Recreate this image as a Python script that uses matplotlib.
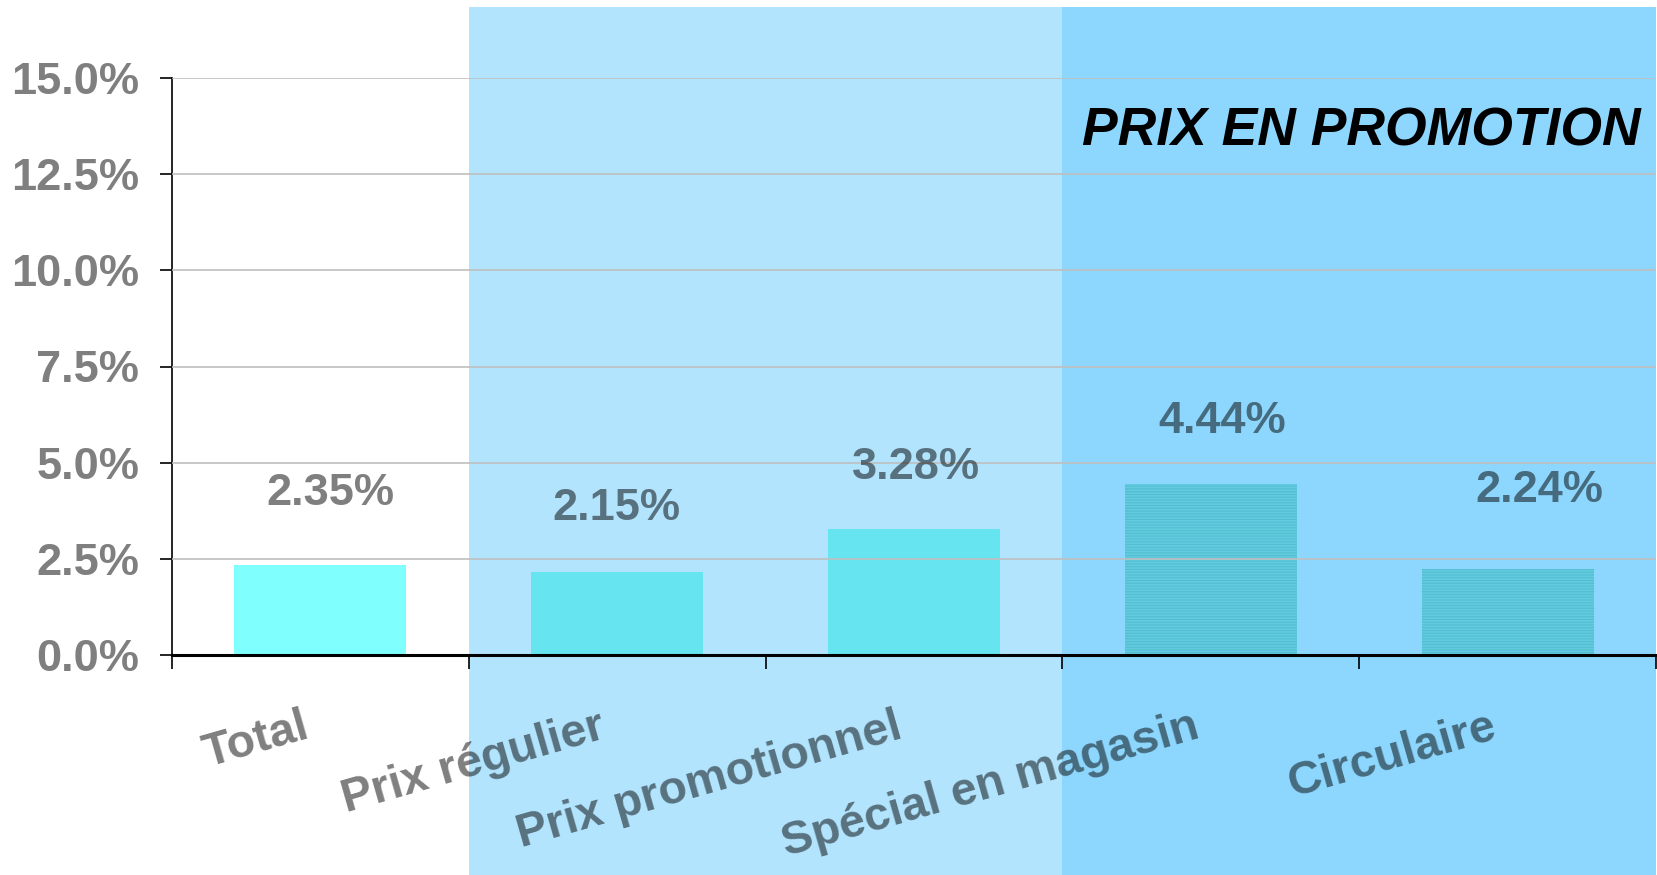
import matplotlib
matplotlib.use("Agg")
import matplotlib.pyplot as plt
import matplotlib.transforms as transforms
from matplotlib.patches import Rectangle
from matplotlib.ticker import FixedLocator, FuncFormatter
import numpy as np

categories = ["Total", "Prix régulier", "Prix promotionnel", "Spécial en magasin", "Circulaire"]
values = [2.35, 2.15, 3.28, 4.44, 2.24]
value_labels = ["2.35%", "2.15%", "3.28%", "4.44%", "2.24%"]
y_ticks = [0, 2.5, 5, 7.5, 10, 12.5, 15]
promo_title = "PRIX EN PROMOTION"

bar_colors = ["#80FFFF", "#66E4F0", "#66E4F0", "#54BDD2", "#54BDD2"]
bar_hatch = [None, None, None, "------", "------"]
label_nudge = [(10, 71), (-1, 64), (2, 61), (11, 63), (32, 78)]  # pixels

plt.rcParams["font.family"] = ["Liberation Sans", "DejaVu Sans"]
plt.rcParams["font.weight"] = "bold"
plt.rcParams["hatch.linewidth"] = 1.2

TEXT = (0, 0, 0, 0.5)

fig = plt.figure(figsize=(16.58, 8.75), dpi=100)
fig.patch.set_facecolor("white")
ax = fig.add_axes([172 / 1658, 220 / 875, 1484 / 1658, 577 / 875])
ax.patch.set_visible(False)

x = np.arange(len(categories))
ax.set_xlim(-0.5, len(categories) - 0.5)
ax.set_ylim(0, 15)

# shaded zones behind everything, spanning the full figure height
blend = transforms.blended_transform_factory(ax.transData, fig.transFigure)
for x0, x1, col in [(0.5, 2.5, "#B2E4FE"), (2.5, 4.5, "#8DD7FE")]:
    fig.add_artist(Rectangle((x0, 0), x1 - x0, 868 / 875, transform=blend,
                             facecolor=col, edgecolor="none", zorder=-5))

bars = ax.bar(x, values, width=0.58, color=bar_colors, linewidth=0, zorder=2)
for b, h in zip(bars, bar_hatch):
    if h:
        b.set_hatch(h)
        b.set_edgecolor("#62CCDE")

ax.yaxis.set_major_locator(FixedLocator(y_ticks))
ax.yaxis.set_major_formatter(FuncFormatter(lambda v, p: f"{v:.1f}%"))
ax.grid(axis="y", color="#BFBFBF", linewidth=1.2, zorder=3)
ax.set_axisbelow(False)
ax.tick_params(axis="y", length=8.5, width=1.2, pad=15, labelsize=32.5,
               labelcolor=TEXT, direction="out")

ax.set_xticks(x)
ax.set_xticklabels([])
ax.set_xticks(np.arange(-0.5, len(categories)), minor=True)
ax.tick_params(axis="x", which="major", length=0)
ax.tick_params(axis="x", which="minor", length=10, width=1.2, direction="out")

for side in ["top", "right"]:
    ax.spines[side].set_visible(False)
ax.spines["left"].set_linewidth(1.2)
ax.spines["bottom"].set_linewidth(2.2)
ax.spines["bottom"].set_zorder(4)

for i, (v, lab) in enumerate(zip(values, value_labels)):
    dx, dy = label_nudge[i]
    ax.annotate(lab, xy=(i, v), xytext=(dx, dy), textcoords="offset pixels",
                ha="center", va="center", fontsize=32.5, fontweight="bold",
                color=TEXT, annotation_clip=False)

for i, cat in enumerate(categories):
    ax.annotate(cat, xy=(i, 0), xycoords=ax.get_xaxis_transform(),
                xytext=(-19, -50), textcoords="offset pixels",
                ha="right", va="top", rotation=16, rotation_mode="anchor",
                fontsize=33.5, fontweight="bold", color=TEXT, annotation_clip=False)

ax.annotate(promo_title, xy=(4.5, 13.6), xytext=(-15, 0), textcoords="offset pixels",
            ha="right", va="center", fontsize=38.5, fontweight="bold",
            fontstyle="italic", color="black")

fig.savefig("out.png", dpi=100)
